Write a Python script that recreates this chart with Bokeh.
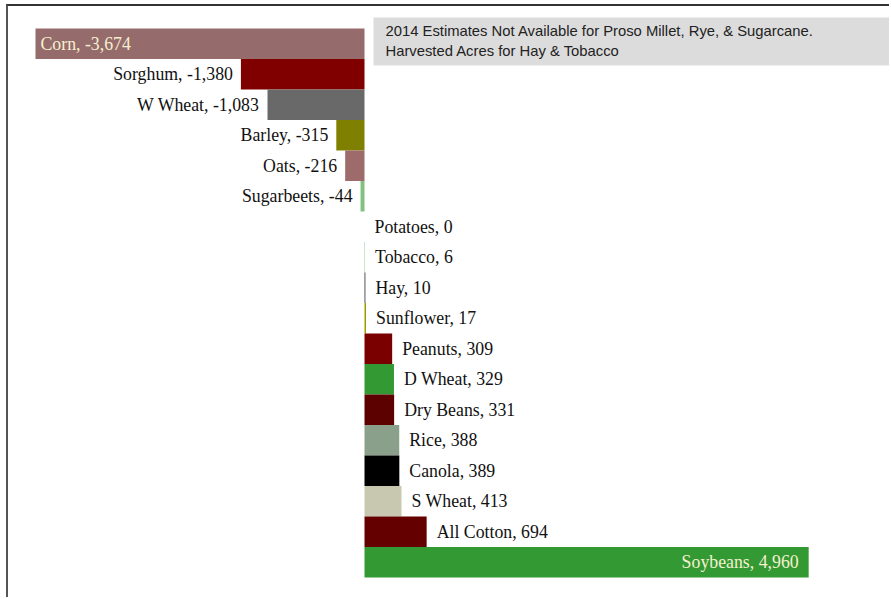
from bokeh.plotting import figure
from bokeh.models import ColumnDataSource, Range1d, Label
from bokeh.core.properties import value
from bokeh.embed import file_html
from bokeh.resources import INLINE

crops = ["Corn", "Sorghum", "W Wheat", "Barley", "Oats", "Sugarbeets", "Potatoes",
         "Tobacco", "Hay", "Sunflower", "Peanuts", "D Wheat", "Dry Beans", "Rice",
         "Canola", "S Wheat", "All Cotton", "Soybeans"]
changes = [-3674, -1380, -1083, -315, -216, -44, 0, 6, 10, 17, 309, 329, 331, 388,
           389, 413, 694, 4960]
colors = ["#956b6b", "#800000", "#696969", "#808000", "#9e6b6b", "#80c080", "#ffffff",
          "#a8c8a8", "#404040", "#a09a00", "#7a0000", "#339933", "#5c0000", "#8aa08a",
          "#000000", "#c8c8b0", "#640000", "#339933"]
note = "2014 Estimates Not Available for Proso Millet, Rye, & Sugarcane.\nHarvested Acres for Hay & Tobacco"

n = len(crops)
idx = list(range(n))
labels = [f"{c}, {v:,}" for c, v in zip(crops, changes)]

W, H = 883, 593
scale = 0.08955           # px per unit
zero_px = 356
x0 = -zero_px / scale
x1 = (W - zero_px) / scale
pad = 22 / 30.5

p = figure(width=W, height=H, output_backend="svg", toolbar_location=None,
           x_range=Range1d(x0, x1), y_range=Range1d(n - 0.5 + pad, -0.5 - pad),
           min_border=0, min_border_left=0, min_border_right=0,
           min_border_top=0, min_border_bottom=0)
p.axis.visible = False
p.grid.visible = False
p.outline_line_color = None
p.background_fill_color = "white"
p.border_fill_color = "white"
p.styles = {"margin-left": "6px", "margin-top": "4px",
            "border-left": "2px solid #555555", "border-top": "2px solid #333333"}

src = ColumnDataSource(dict(y=idx, left=[min(0, v) for v in changes],
                            right=[max(0, v) for v in changes], color=colors))
p.hbar(y="y", left="left", right="right", height=1.0, fill_color="color",
       line_color=None, source=src)

big = 3000
groups = {
    "neg_out": ([i for i in idx if -big <= changes[i] < 0], "right", -8, "#111111"),
    "pos_out": ([i for i in idx if 0 <= changes[i] <= big], "left", 10, "#111111"),
    "neg_in": ([i for i in idx if changes[i] < -big], "left", 5, "#f5f0d0"),
    "pos_in": ([i for i in idx if changes[i] > big], "right", -10, "#f5f0d0"),
}
for key, (ids, align, off, col) in groups.items():
    s = ColumnDataSource(dict(x=[changes[i] for i in ids], y=ids,
                              t=[labels[i] for i in ids]))
    p.text(x="x", y="y", text="t", source=s, text_align=align, x_offset=off,
           text_baseline="middle", text_color=col,
           text_font=value("Liberation Serif"), text_font_size="17.8px")

lab = Label(x=365, y=H - 11, x_units="screen", y_units="screen", text=note,
            text_font="Liberation Sans", text_font_size="14.8px", text_color="#222222",
            text_baseline="top", text_align="left", text_line_height=1.25,
            background_fill_color="#dcdcdc", padding=(12, 120, 5, 7))
p.add_layout(lab)

open("out.html", "w").write(file_html(p, INLINE))
